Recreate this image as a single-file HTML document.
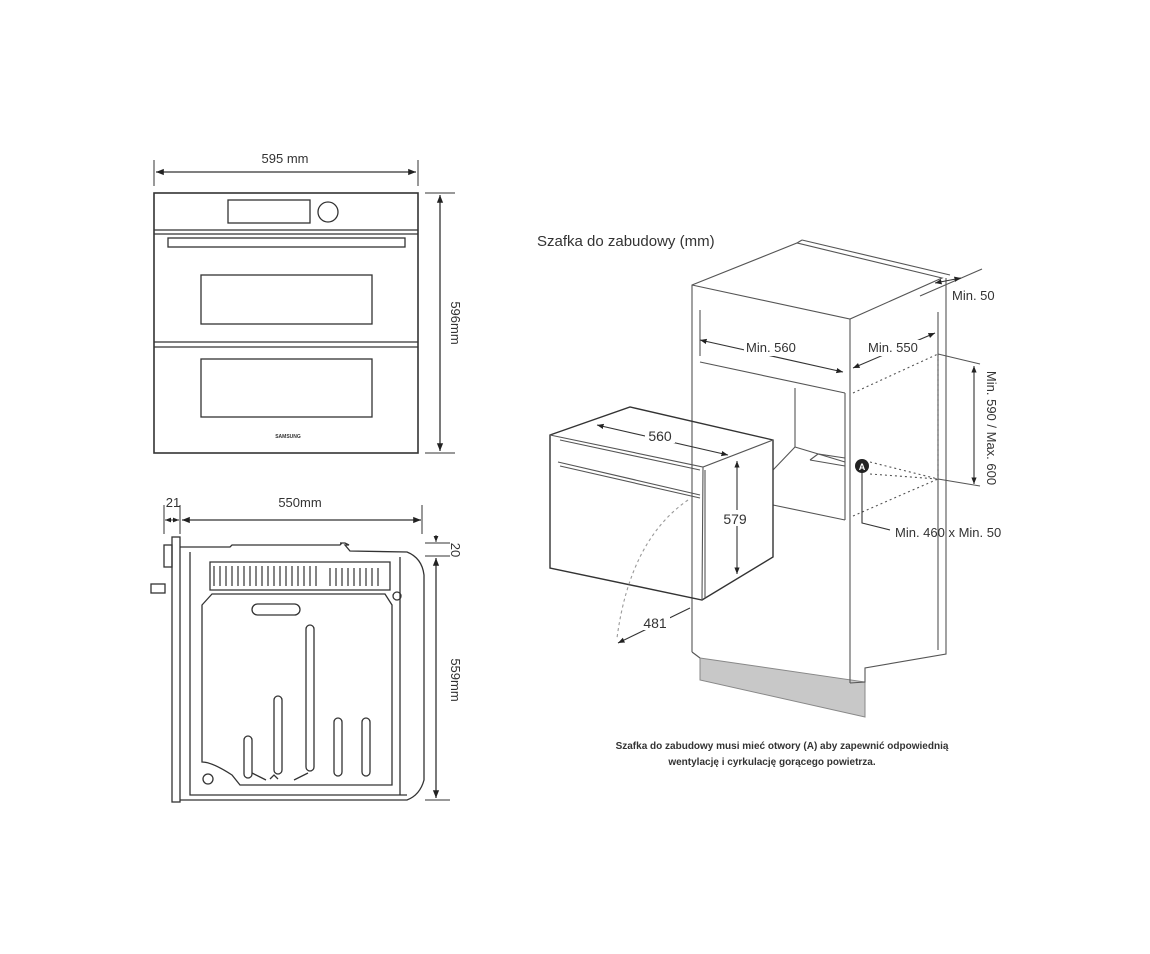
<!DOCTYPE html>
<html><head><meta charset="utf-8"><style>
html,body{margin:0;padding:0;background:#fff}
svg{display:block}
text{font-family:"Liberation Sans",sans-serif;fill:#333}
</style></head><body>
<svg width="1150" height="954" viewBox="0 0 1150 954" xmlns="http://www.w3.org/2000/svg">
<defs>
<marker id="a" viewBox="0 0 10 10" refX="10" refY="5" markerWidth="6" markerHeight="6" orient="auto-start-reverse"><path d="M0,1 L10,5 L0,9 z" fill="#222"/></marker>
</defs>
<g fill="none" stroke="#333" stroke-width="1.3">
<!-- FRONT VIEW -->
<line x1="154" y1="160" x2="154" y2="186" stroke-width="1"/>
<line x1="418" y1="160" x2="418" y2="186" stroke-width="1"/>
<line x1="156" y1="172" x2="416" y2="172" marker-start="url(#a)" marker-end="url(#a)"/>
<rect x="154" y="193" width="264" height="260" stroke-width="1.6"/>
<rect x="228" y="200" width="82" height="23"/>
<circle cx="328" cy="212" r="10"/>
<line x1="154" y1="230" x2="418" y2="230"/>
<line x1="154" y1="234" x2="418" y2="234"/>
<rect x="168" y="238" width="237" height="9"/>
<rect x="201" y="275" width="171" height="49"/>
<line x1="154" y1="342" x2="418" y2="342"/>
<line x1="154" y1="347" x2="418" y2="347"/>
<rect x="201" y="359" width="171" height="58"/>
<line x1="425" y1="193" x2="455" y2="193" stroke-width="1"/>
<line x1="425" y1="453" x2="455" y2="453" stroke-width="1"/>
<line x1="440" y1="195" x2="440" y2="451" marker-start="url(#a)" marker-end="url(#a)"/>

<!-- SIDE VIEW -->
<line x1="164" y1="505" x2="164" y2="534" stroke-width="1"/>
<line x1="180" y1="505" x2="180" y2="534" stroke-width="1"/>
<line x1="422" y1="505" x2="422" y2="534" stroke-width="1"/>
<line x1="165" y1="520" x2="179" y2="520" stroke-width="1" marker-start="url(#a)" marker-end="url(#a)"/>
<line x1="182" y1="520" x2="421" y2="520" marker-start="url(#a)" marker-end="url(#a)"/>
<rect x="172" y="537" width="8" height="265"/>
<rect x="164" y="545" width="8" height="22"/>
<rect x="151" y="584" width="14" height="9"/>
<path d="M180,547 L230,547 L232,545 L340,545 L342,543 L340,543 L345,543 L349,545 L345,545 L350,551 L407,552 Q422,558 424,575 L424,780 Q420,795 407,800 L180,800"/>
<path d="M190,552 L190,795 L407,795"/>
<line x1="400" y1="557" x2="400" y2="795"/>
<path d="M210,562 L390,562 L390,590 L210,590 z"/>
<path d="M202,605 L212,594 L385,594 L392,605 L392,785 L240,785 L232,775 Q212,762 202,762 z"/>
<rect x="252" y="604" width="48" height="11" rx="5.5"/>
<rect x="306" y="625" width="8" height="146" rx="4"/>
<rect x="274" y="696" width="8" height="78" rx="4"/>
<rect x="244" y="736" width="8" height="42" rx="4"/>
<rect x="334" y="718" width="8" height="58" rx="4"/>
<rect x="362" y="718" width="8" height="58" rx="4"/>
<circle cx="208" cy="779" r="5"/>
<circle cx="397" cy="596" r="4"/>
<line x1="252" y1="773" x2="266" y2="780"/>
<line x1="308" y1="773" x2="294" y2="780"/>
<path d="M270,779 L274,775 L278,779"/>
<line x1="425" y1="543" x2="450" y2="543" stroke-width="1"/>
<line x1="425" y1="556" x2="450" y2="556" stroke-width="1"/>
<line x1="425" y1="800" x2="450" y2="800" stroke-width="1"/>
<line x1="436" y1="535" x2="436" y2="542" marker-end="url(#a)" stroke-width="1"/>
<line x1="436" y1="558" x2="436" y2="798" marker-start="url(#a)" marker-end="url(#a)"/>
</g>
<g stroke="#666" stroke-width="1.6">
<line x1="214" y1="566" x2="214" y2="586"/><line x1="220" y1="566" x2="220" y2="586"/><line x1="226" y1="566" x2="226" y2="586"/><line x1="232" y1="566" x2="232" y2="586"/><line x1="238" y1="566" x2="238" y2="586"/><line x1="244" y1="566" x2="244" y2="586"/><line x1="250" y1="566" x2="250" y2="586"/><line x1="256" y1="566" x2="256" y2="586"/><line x1="262" y1="566" x2="262" y2="586"/><line x1="268" y1="566" x2="268" y2="586"/><line x1="274" y1="566" x2="274" y2="586"/><line x1="280" y1="566" x2="280" y2="586"/><line x1="286" y1="566" x2="286" y2="586"/><line x1="292" y1="566" x2="292" y2="586"/><line x1="298" y1="566" x2="298" y2="586"/><line x1="304" y1="566" x2="304" y2="586"/><line x1="310" y1="566" x2="310" y2="586"/><line x1="316" y1="566" x2="316" y2="586"/>
<line x1="330" y1="568" x2="330" y2="586"/><line x1="336" y1="568" x2="336" y2="586"/><line x1="342" y1="568" x2="342" y2="586"/><line x1="348" y1="568" x2="348" y2="586"/><line x1="354" y1="568" x2="354" y2="586"/><line x1="360" y1="568" x2="360" y2="586"/><line x1="366" y1="568" x2="366" y2="586"/><line x1="372" y1="568" x2="372" y2="586"/><line x1="378" y1="568" x2="378" y2="586"/>
</g>

<!-- CABINET -->
<polygon points="700,658 865,682 865,717 700,680" fill="#c8c8c8" stroke="#888"/>
<g fill="none" stroke="#555" stroke-width="1.1">
<path d="M692,652 L692,285 L797,243 L942,278 L850,319 L692,285"/>
<line x1="850" y1="319" x2="850" y2="683"/>
<path d="M700,658 L692,652"/>
<path d="M850,683 L865,682 L865,668 L946,654 L946,278"/>
<line x1="797" y1="243" x2="802" y2="240"/>
<line x1="802" y1="240" x2="950" y2="275"/>
<line x1="938" y1="312" x2="938" y2="650"/>
<line x1="700" y1="310" x2="700" y2="356"/>
<line x1="700" y1="362" x2="845" y2="393"/>
<line x1="795" y1="388" x2="795" y2="447"/>
<line x1="845" y1="393" x2="845" y2="520"/>
<line x1="773" y1="470" x2="795" y2="447"/>
<line x1="795" y1="447" x2="845" y2="462"/>
<line x1="773" y1="505" x2="845" y2="520"/>
<path d="M810,460 L818,454 L845,458"/>
<line x1="810" y1="460" x2="845" y2="466"/>
<line x1="700" y1="340" x2="843" y2="372" stroke="#333" marker-start="url(#a)" marker-end="url(#a)"/>
<line x1="853" y1="368" x2="935" y2="333" stroke="#333" marker-start="url(#a)" marker-end="url(#a)"/>
<line x1="920" y1="296" x2="982" y2="269"/>
<line x1="935" y1="283" x2="961" y2="278" stroke="#333" marker-start="url(#a)" marker-end="url(#a)"/>
<line x1="938" y1="354" x2="980" y2="364"/>
<line x1="938" y1="479" x2="980" y2="486"/>
<line x1="974" y1="366" x2="974" y2="484" stroke="#333" marker-start="url(#a)" marker-end="url(#a)"/>
<g stroke-dasharray="2,3">
<line x1="853" y1="393" x2="938" y2="354"/>
<line x1="938" y1="354" x2="938" y2="479"/>
<line x1="870" y1="462" x2="938" y2="479"/>
<line x1="870" y1="474" x2="938" y2="479"/>
<line x1="853" y1="516" x2="938" y2="479"/>
</g>
<polyline points="862,470 862,523 890,530" stroke="#333"/>
<!-- oven -->
<path d="M550,435 L630,407 L773,440 L773,557 L702,600 L550,568 Z" stroke="#333" stroke-width="1.4"/>
<path d="M550,435 L703,467 L773,440 M703,467 L702,600"/>
<line x1="560" y1="440" x2="700" y2="470"/>
<line x1="558" y1="462" x2="700" y2="495"/>
<line x1="560" y1="466" x2="700" y2="498"/>
<line x1="705" y1="470" x2="705" y2="598"/>
<line x1="597" y1="425" x2="728" y2="455" stroke="#333" marker-start="url(#a)" marker-end="url(#a)"/>
<line x1="737" y1="461" x2="737" y2="574" stroke="#333" marker-start="url(#a)" marker-end="url(#a)"/>
<path d="M688,500 Q630,540 617,638" stroke="#999" stroke-dasharray="3,3"/>
<line x1="618" y1="643" x2="690" y2="608" stroke="#333" marker-start="url(#a)"/>
</g>
<g fill="#fff">
<rect x="645" y="427" width="30" height="16"/>
<rect x="721" y="510" width="30" height="16"/>
<rect x="640" y="614" width="30" height="16"/>
<rect x="744" y="340" width="55" height="16"/>
<rect x="866" y="340" width="54" height="16"/>
</g>
<circle cx="862" cy="466" r="7" fill="#222"/>
<text x="862" y="470" font-size="9" font-weight="bold" text-anchor="middle" style="fill:#fff">A</text>

<g font-size="13">
<text x="285" y="163" text-anchor="middle">595 mm</text>
<text transform="translate(451,323) rotate(90)" text-anchor="middle">596mm</text>
<text x="288" y="438" font-size="5" text-anchor="middle" font-weight="bold">SAMSUNG</text>
<text x="173" y="507" text-anchor="middle">21</text>
<text x="300" y="507" text-anchor="middle">550mm</text>
<text transform="translate(451,550) rotate(90)" text-anchor="middle">20</text>
<text transform="translate(451,680) rotate(90)" text-anchor="middle">559mm</text>
<text x="537" y="246" font-size="15">Szafka do zabudowy (mm)</text>
<text x="952" y="300">Min. 50</text>
<text x="746" y="352">Min. 560</text>
<text x="868" y="352">Min. 550</text>
<text transform="translate(987,428) rotate(90)" text-anchor="middle">Min. 590 / Max. 600</text>
<text x="895" y="537">Min. 460 x Min. 50</text>
<text x="660" y="441" font-size="14" text-anchor="middle">560</text>
<text x="735" y="524" font-size="14" text-anchor="middle">579</text>
<text x="655" y="628" font-size="14" text-anchor="middle">481</text>
<text x="782" y="749" font-size="10" text-anchor="middle" font-weight="bold">Szafka do zabudowy musi mieć otwory (A) aby zapewnić odpowiednią</text>
<text x="772" y="765" font-size="10" text-anchor="middle" font-weight="bold">wentylację i cyrkulację gorącego powietrza.</text>
</g>
</svg>
</body></html>
